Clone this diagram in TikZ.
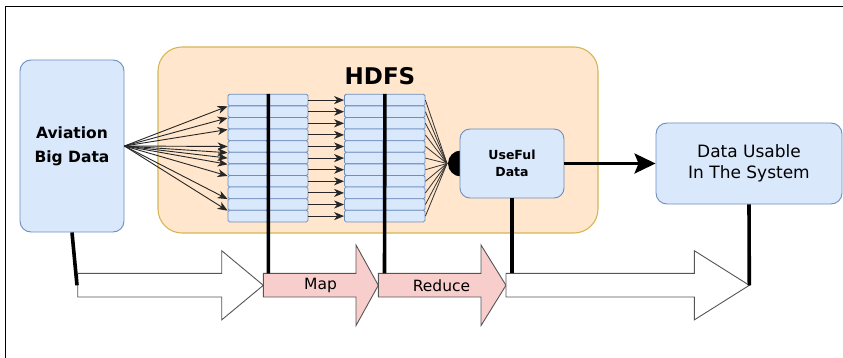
\documentclass[tikz,border=0pt]{standalone}
\usepackage{fontspec}
\setmainfont{DejaVu Sans}
\usetikzlibrary{arrows.meta,calc}

\definecolor{bluefill}{HTML}{DAE8FC}
\definecolor{bluedraw}{HTML}{6C8EBF}
\definecolor{hdfsfill}{HTML}{FFE6CC}
\definecolor{hdfsdraw}{HTML}{D6B656}
\definecolor{pinkfill}{HTML}{F8CECC}
\definecolor{arrowdraw}{HTML}{555555}

\tikzset{
  bluebox/.style={draw=bluedraw, fill=bluefill, line width=0.9pt,
    rounded corners=11pt, inner sep=0pt, align=center},
  hdfsbox/.style={draw=hdfsdraw, fill=hdfsfill, line width=1.1pt,
    rounded corners=24pt, inner sep=0pt},
  cell/.style={draw=bluedraw, fill=bluefill, line width=0.8pt,
    rounded corners=1.5pt, inner sep=0pt, minimum width=40pt,
    minimum height=11.6pt},
  thinarrow/.style={line width=0.9pt, draw=black!85,
    -{Stealth[length=10pt,width=8pt,inset=3pt]}},
  thinline/.style={line width=0.8pt, draw=black!80},
  heavyline/.style={line width=3.6pt},
  fatwhite/.style={draw=arrowdraw, fill=white, line width=0.9pt},
  fatpink/.style={draw=arrowdraw, fill=pinkfill, line width=0.9pt},
  fatlabel/.style={font=\fontsize{15.5}{18}\selectfont, inner sep=0pt},
}

\begin{document}
\begin{tikzpicture}[x=1pt,y=-1pt]
\useasboundingbox (0,0) rectangle (843,358);

% frame
\draw[line width=1pt] (5,358) -- (5,7) -- (843,7);

% HDFS container
\node[hdfsbox, minimum width=440pt, minimum height=186pt] (hdfs) at (378,140) {};
\node[font=\bfseries\fontsize{23}{26}\selectfont, inner sep=0pt] (hdfstitle) at (380,76) {HDFS};

% source and result boxes
\node[bluebox, minimum width=104pt, minimum height=172pt,
      font=\bfseries\fontsize{15.5}{24}\selectfont] (av) at (72,146) {Aviation\\Big Data};

% junction disk, partly hidden by the box drawn over it
\fill[black] (461,163.5) circle[radius=13pt];
\node[bluebox, rounded corners=10pt, minimum width=104pt, minimum height=69pt,
      font=\bfseries\fontsize{12.5}{17.5}\selectfont] (useful) at (512,163.5) {UseFul\\Data};

\node[bluebox, minimum width=186pt, minimum height=81pt,
      font=\fontsize{17}{21}\selectfont] (usable) at (749,163.5) {Data Usable\\In The System};

% two stacks of data blocks
\foreach \i in {1,...,11}{
  \pgfmathsetmacro\yy{94.3+11.6*(\i-0.5)}
  \node[cell] (s1l-\i) at (248,\yy) {};
  \node[cell] (s1r-\i) at (288,\yy) {};
  \node[cell] (s2l-\i) at (364.5,\yy) {};
  \node[cell] (s2r-\i) at (405,\yy) {};
}

% blocks of the first stack feed the second one
\foreach \i in {1,...,11}{
  \draw[thinarrow] (s1r-\i.east) -- (s2l-\i.west);
}

% raw data spread over the first stack
\foreach \t in {s1l-1.south west, s1l-2.south west, s1l-3.south west,
                s1l-5.west, s1l-5.south west, s1l-6.west, s1l-6.south west,
                s1l-7.south west, s1l-9.south west, s1l-10.south west}{
  \draw[thinarrow] (av.east) -- (\t);
}

% second stack gathered into the useful data
\coordinate (hub) at (447,163.5);
\foreach \i in {1,...,11}{
  \draw[thinline] (s2r-\i.east) -- (hub);
}

\draw[line width=3pt, -{Stealth[length=21pt,width=20pt,inset=4pt]}]
  (useful.east) -- (usable.west);

% process arrows
\draw[fatwhite] (77.7,273.3) -- (221.7,273.3) -- (221.7,250.7) -- (263.3,285.3)
  -- (221.7,319.9) -- (221.7,297) -- (77.7,297) -- cycle;
\draw[fatpink] (263.3,273.3) -- (356,273.3) -- (356,245) -- (378.3,285.3)
  -- (356,325.6) -- (356,297) -- (263.3,297) -- cycle;
\draw[fatpink] (378.3,273.3) -- (481,273.3) -- (481,245) -- (506,285.3)
  -- (481,325.6) -- (481,297) -- (378.3,297) -- cycle;
\draw[fatwhite] (506,273.3) -- (694.3,273.3) -- (694.3,250.7) -- (749.3,285.3)
  -- (694.3,319.9) -- (694.3,297) -- (506,297) -- cycle;

\node[fatlabel] (maplabel) at (320.5,285.3) {Map};
\node[fatlabel] (reducelabel) at (441.5,285.3) {Reduce};

% attachment points on the process arrows
\coordinate (a1tail) at (77,285.3);
\coordinate (maptop) at (268.3,273.3);
\coordinate (reducetop) at (384.5,273.3);
\coordinate (a2top) at (512,273.3);
\coordinate (a2tip) at (749.3,285.3);

% links between stages and process steps
\draw[heavyline] (av.south) -- (a1tail);
\draw[heavyline] (s1l-1.north east) -- (maptop);
\draw[heavyline] (s2l-1.north east) -- (reducetop);
\draw[heavyline] (useful.south) -- (a2top);
\draw[heavyline] (usable.south) -- (a2tip);
\end{tikzpicture}
\end{document}
